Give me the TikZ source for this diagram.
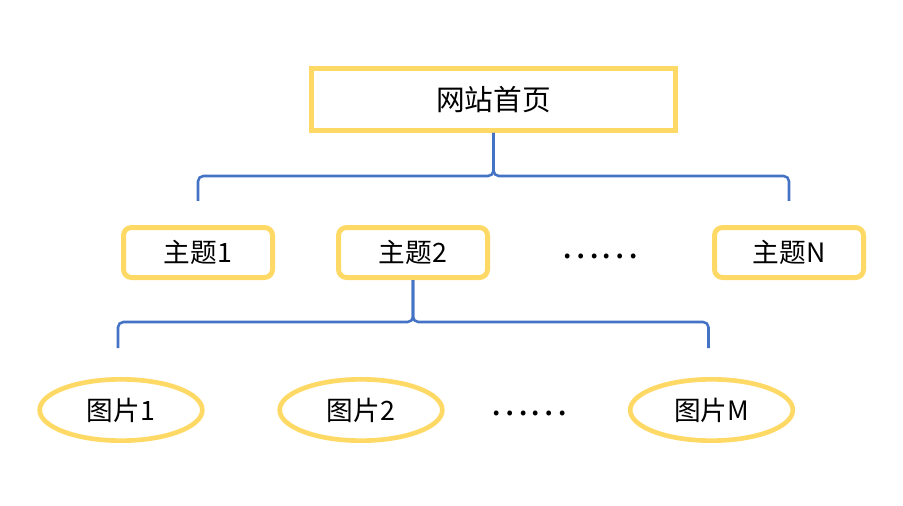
\documentclass[tikz,border=0pt]{standalone}
\usepackage{fontspec}
\setmainfont{Noto Sans CJK SC}
\definecolor{siteyellow}{RGB}{255,217,102}
\definecolor{siteblue}{RGB}{68,114,196}
\usetikzlibrary{shapes.geometric,calc}

\begin{document}
\begin{tikzpicture}[x=0.75pt,y=-0.75pt,
    homebox/.style={draw=siteyellow, line width=3.75pt, minimum width=273pt, minimum height=46.5pt, font=\fontsize{21.5}{25}\selectfont},
    topicbox/.style={draw=siteyellow, line width=3.75pt, rounded corners=6pt, minimum width=111.75pt, minimum height=37.5pt, inner sep=0pt, font=\fontsize{20}{24}\selectfont},
    picnode/.style={ellipse, draw=siteyellow, line width=3.5pt, minimum width=122pt, minimum height=46pt, inner sep=0pt, font=\fontsize{20}{24}\selectfont},
    dotsnode/.style={font=\fontsize{27}{30}\selectfont},
    brace/.style={draw=siteblue, line width=1.9pt, rounded corners=4pt}]
    \useasboundingbox (0,0) rectangle (903,506);

    % Home page
    \node[homebox] (home) at (493.5,99.5) {网站首页};

    % Topics
    \node[topicbox] (t1) at (198,252.5) {主题1};
    \node[topicbox] (t2) at (413,252.5) {主题2};
    \node[dotsnode] (tdots) at (600,256) {……};
    \node[topicbox] (tN) at (789,252.5) {主题N};

    % Pictures
    \node[picnode] (p1) at (121,410) {图片1};
    \node[picnode] (p2) at (361,410) {图片2};
    \node[dotsnode] (pdots) at (529,413) {……};
    \node[picnode] (pM) at (711.5,410) {图片M};

    % Braces
    \coordinate (tipA) at (493.5,176);
    \coordinate (endA1) at ($(t1.north)+(0,-24)$);
    \coordinate (endAN) at ($(tN.north)+(0,-24)$);
    \draw[brace] (endA1) |- (tipA) -- (home.south);
    \draw[brace] (endAN) |- (tipA) -- (home.south);

    \coordinate (tipB) at (413,322);
    \coordinate (endB1) at ($(p1.north)+(-3,-29)$);
    \coordinate (endBM) at ($(pM.north)+(-3,-29)$);
    \draw[brace] (endB1) |- (tipB) -- (t2.south);
    \draw[brace] (endBM) |- (tipB) -- (t2.south);
\end{tikzpicture}
\end{document}
